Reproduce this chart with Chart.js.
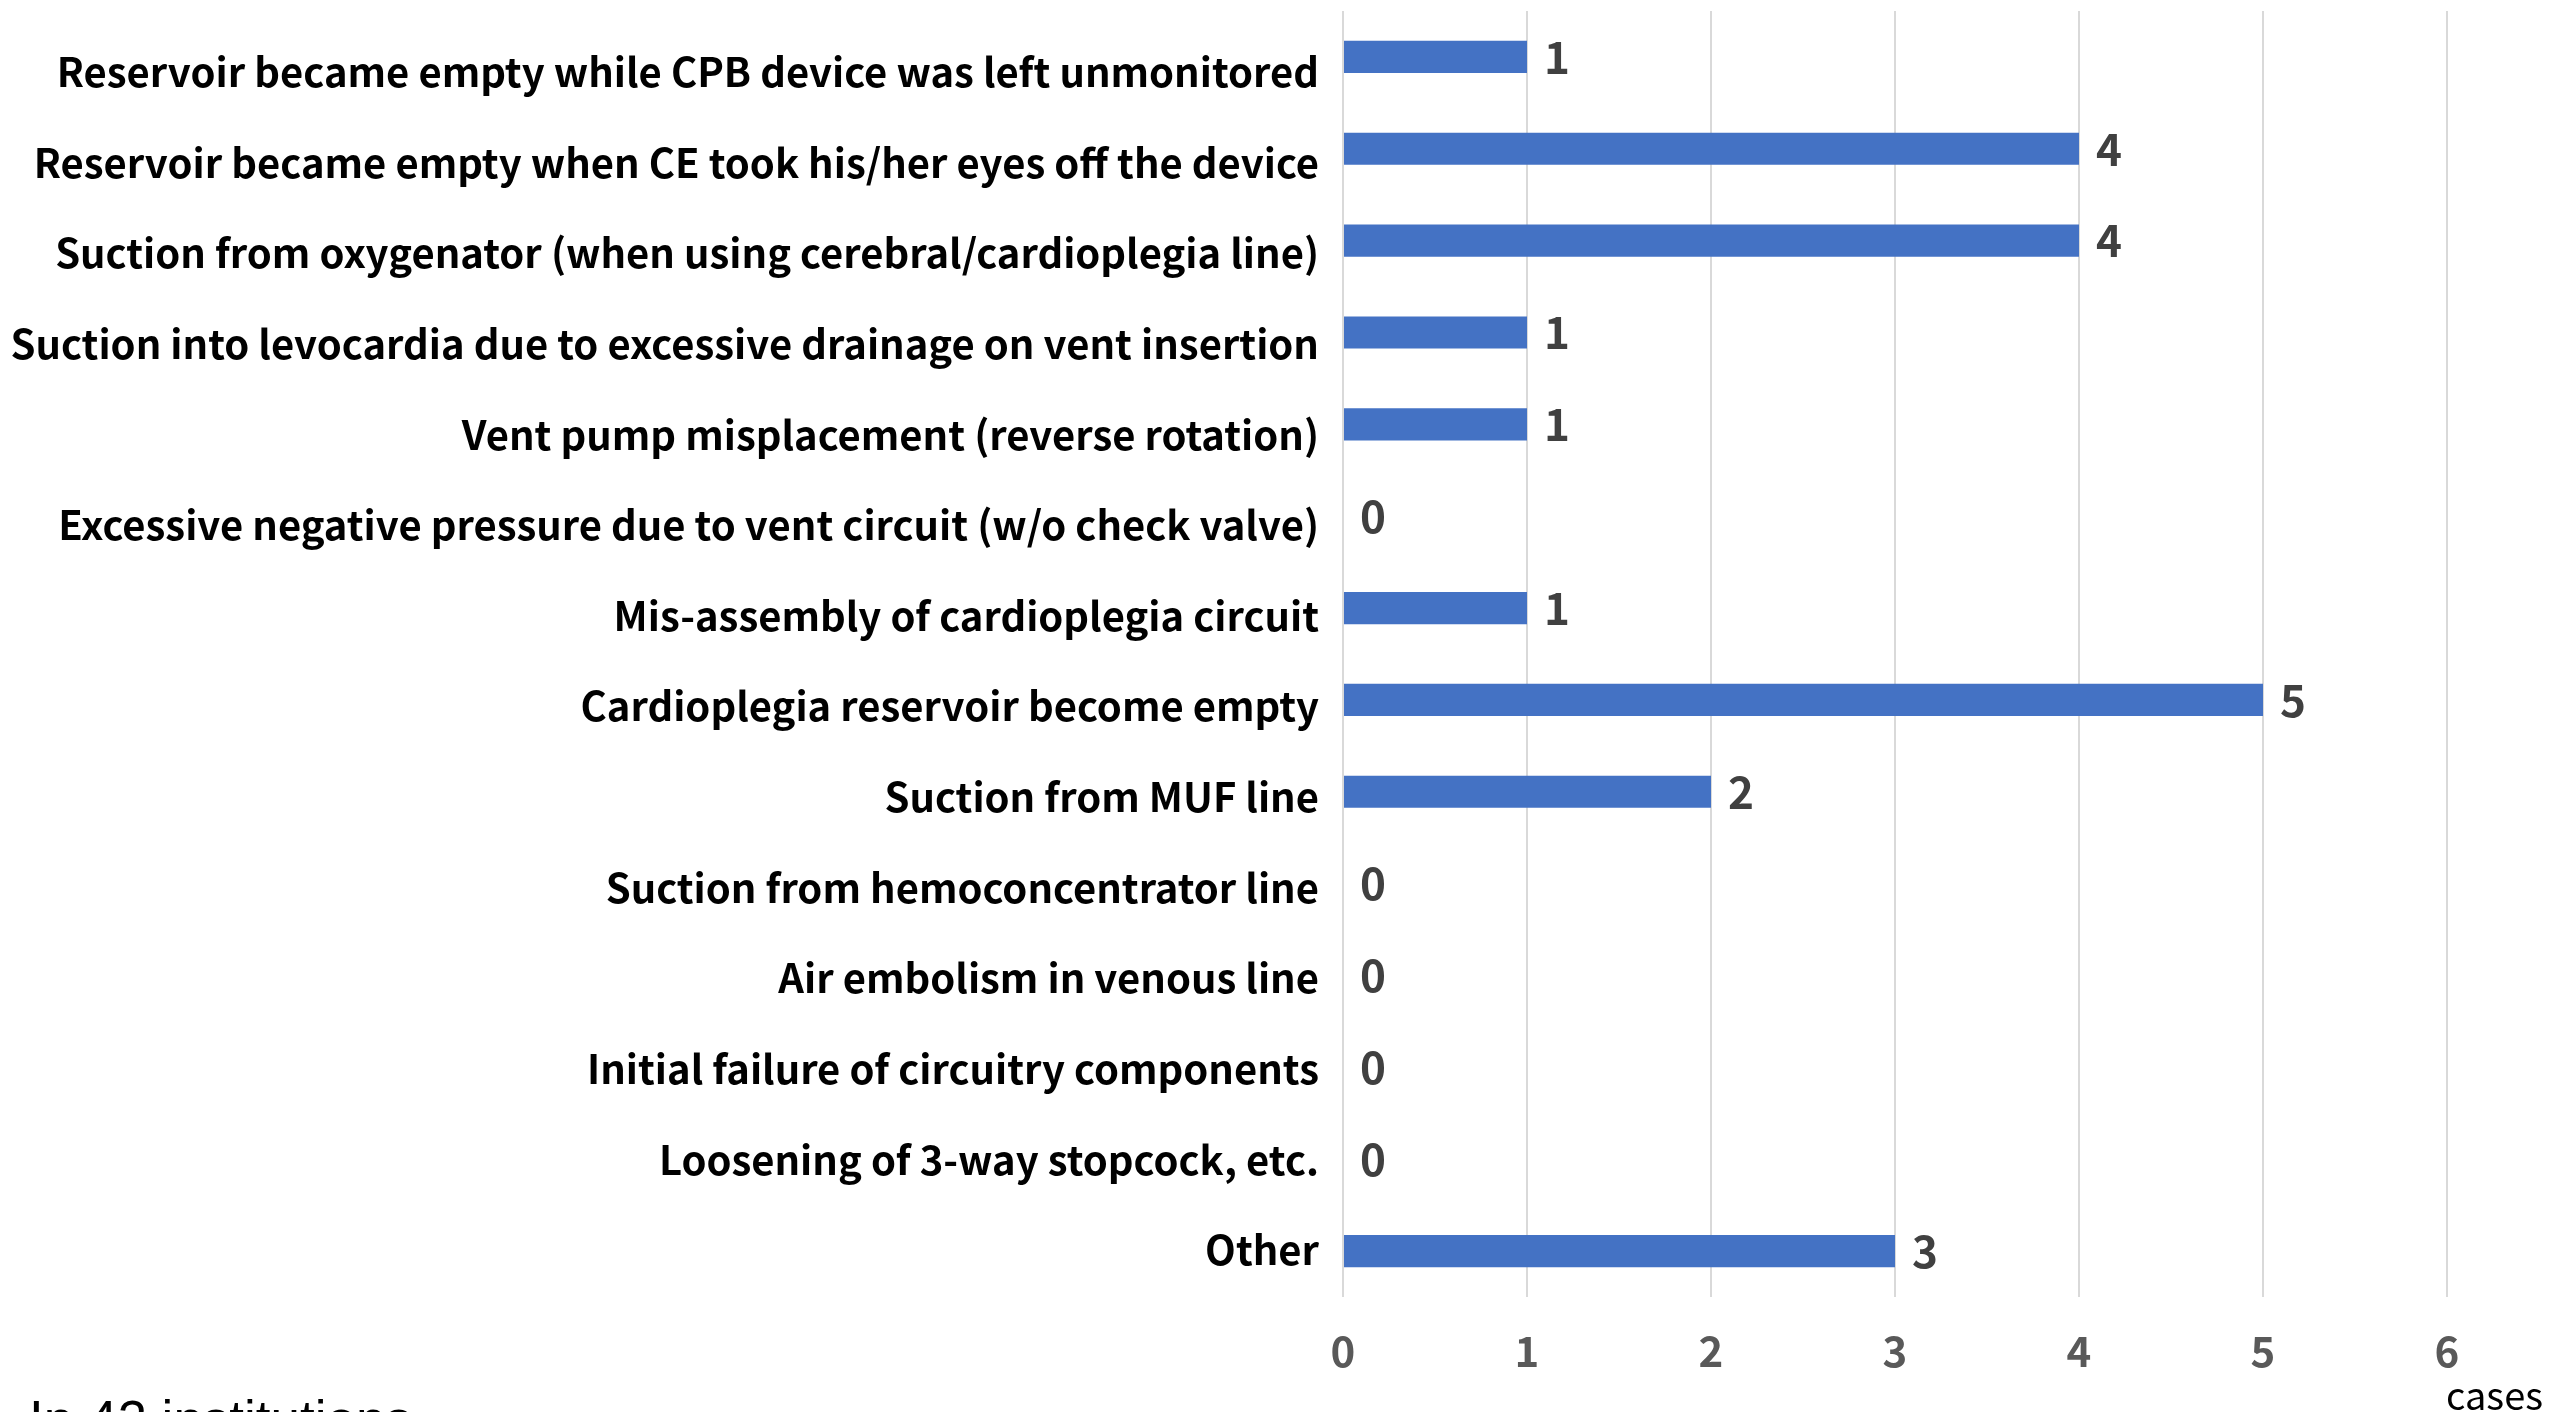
<!DOCTYPE html>
<html>
<head>
<meta charset="utf-8">
<script src="https://cdn.jsdelivr.net/npm/chart.js@4.4.1/dist/chart.umd.min.js"></script>
<style>
  html, body { margin: 0; padding: 0; background: #fff; overflow: hidden; }
  #wrap { position: relative; width: 2567px; height: 1412px; }
  #note {
    position: absolute; left: 29px; top: 1389px;
    font-family: "Liberation Sans", Arial, sans-serif; font-size: 53px; color: #000;
    white-space: nowrap;
  }
  #unit {
    position: absolute; left: 2446px; top: 1366px;
    font-family: "Noto Sans CJK JP", sans-serif; font-size: 38px; color: #000;
  }
</style>
</head>
<body>
<div id="wrap">
  <canvas id="chart" width="2567" height="1412"></canvas>
  <div id="note">In 42 institutions</div>
  <div id="unit">cases</div>
</div>
<script>
// 항목 이름 (위에서 아래 순서)
const categories = [
    'Reservoir became empty while CPB device was left unmonitored',
    'Reservoir became empty when CE took his/her eyes off the device',
    'Suction from oxygenator (when using cerebral/cardioplegia line)',
    'Suction into levocardia due to excessive drainage on vent insertion',
    'Vent pump misplacement (reverse rotation)',
    'Excessive negative pressure due to vent circuit (w/o check valve)',
    'Mis-assembly of cardioplegia circuit',
    'Cardioplegia reservoir become empty',
    'Suction from MUF line',
    'Suction from hemoconcentrator line',
    'Air embolism in venous line',
    'Initial failure of circuitry components',
    'Loosening of 3-way stopcock, etc.',
    'Other'
];
const caseCounts = [1, 4, 4, 1, 1, 0, 1, 5, 2, 0, 0, 0, 0, 3];
const xTicks = [0, 1, 2, 3, 4, 5, 6];

const FONT = '"Noto Sans CJK JP", "Noto Sans", sans-serif';

// 막대 끝에 값 표시
const valueLabelPlugin = {
    id: 'valueLabels',
    afterDatasetsDraw(chart) {
        const { ctx } = chart;
        const meta = chart.getDatasetMeta(0);
        ctx.save();
        ctx.font = `bold 44px ${FONT}`;
        ctx.fillStyle = '#404040';
        ctx.textAlign = 'left';
        ctx.textBaseline = 'middle';
        meta.data.forEach((bar, i) => {
            ctx.fillText(String(caseCounts[i]), bar.x + 17, bar.y);
        });
        ctx.restore();
    }
};

new Chart(document.getElementById('chart'), {
    type: 'bar',
    data: {
        labels: categories,
        datasets: [{
            data: caseCounts,
            backgroundColor: '#4472C4',
            borderWidth: 0,
            barPercentage: 0.35,
            categoryPercentage: 1.0
        }]
    },
    options: {
        indexAxis: 'y',
        responsive: false,
        animation: false,
        layout: { padding: { top: 11, right: 120, bottom: 0, left: 0 } },
        plugins: {
            legend: { display: false },
            tooltip: { enabled: false }
        },
        scales: {
            x: {
                min: 0,
                max: 6,
                afterBuildTicks: scale => { scale.ticks = xTicks.map(v => ({ value: v })); },
                afterFit: scale => { scale.height = 115; },
                border: { display: false },
                grid: { color: '#d9d9d9', lineWidth: 2, drawTicks: false },
                ticks: {
                    padding: 29,
                    color: '#595959',
                    font: { family: FONT, size: 42, weight: 'bold' }
                }
            },
            // 막대용 카테고리 축 (숨김)
            y: {
                display: false
            },
            // 항목 라벨 전용 축: 라벨 간격이 막대 간격보다 약간 좁음
            yl: {
                type: 'linear',
                position: 'left',
                reverse: true,
                offset: false,
                min: -0.673,
                max: 13.519,
                afterBuildTicks: scale => { scale.ticks = categories.map((_, i) => ({ value: i })); },
                afterFit: scale => {
                    scale.width = 1343;
                    scale.paddingTop = 0;
                    scale.paddingBottom = 0;
                },
                border: { display: false },
                grid: { display: false, drawTicks: false },
                ticks: {
                    padding: 24,
                    color: '#000',
                    autoSkip: false,
                    callback: value => categories[value],
                    font: { family: FONT, size: 40, weight: 'bold' }
                }
            }
        }
    },
    plugins: [valueLabelPlugin]
});
</script>
</body>
</html>
